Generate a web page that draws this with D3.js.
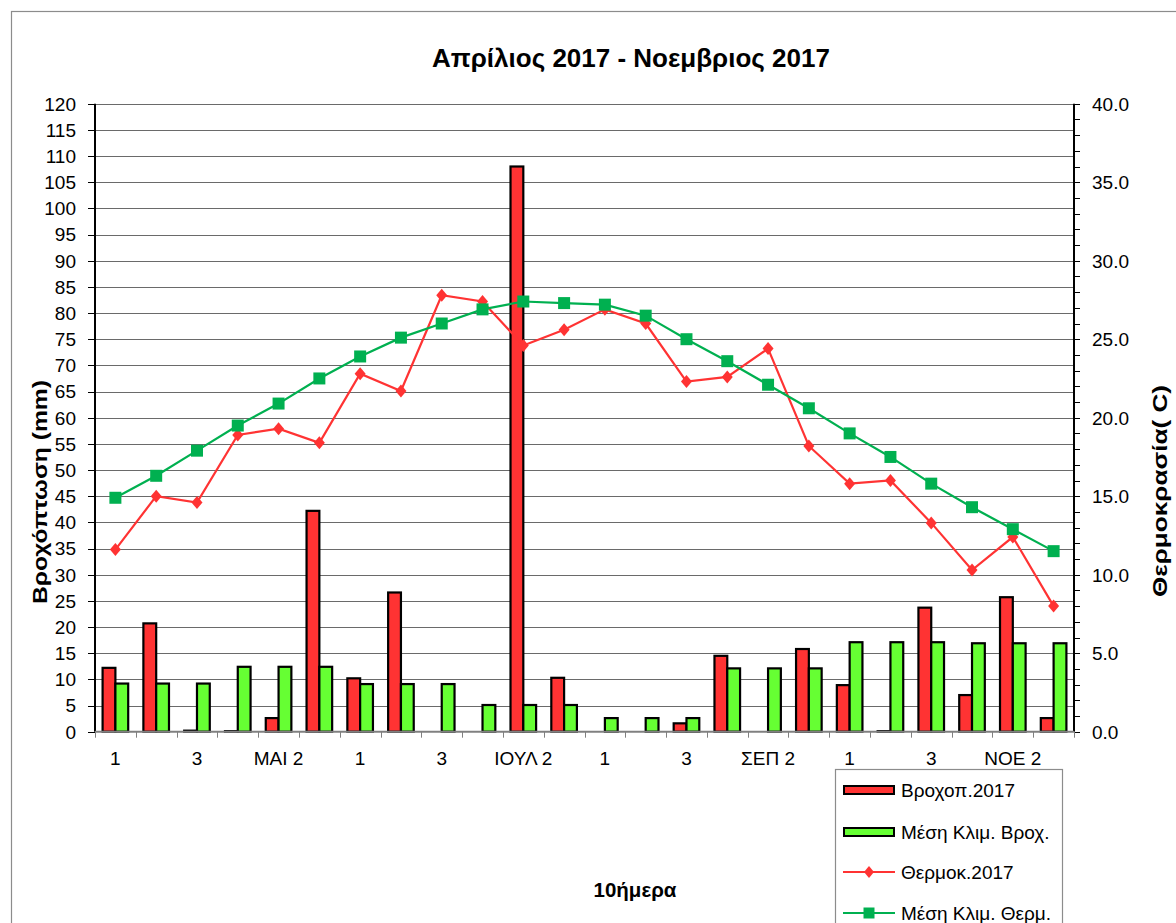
<!DOCTYPE html>
<html><head><meta charset="utf-8">
<script src="https://cdn.jsdelivr.net/npm/d3@7"></script>
<style>
html,body{margin:0;padding:0;background:#fff;}
svg{display:block;font-family:Arial,"Liberation Sans",sans-serif;}
</style></head>
<body><svg id="c" width="1176" height="923"></svg>
<script>
const categories = ["1","ΑΠΡ 2","3","1","ΜΑΙ 2","3","1","ΙΟΥΝ 2","3","1","ΙΟΥΛ 2","3","1","ΑΥΓ 2","3","1","ΣΕΠ 2","3","1","ΟΚΤ 2","3","1","ΝΟΕ 2","3"];
const rain2017 = [12.2,20.7,0.2,0.1,2.6,42.2,10.2,26.6,0,0,108.0,10.3,0,0,1.6,14.5,0,15.8,8.9,0.1,23.7,7.0,25.7,2.6];
const rainClim = [9.2,9.2,9.2,12.4,12.4,12.4,9.1,9.1,9.1,5.1,5.1,5.1,2.6,2.6,2.6,12.1,12.1,12.1,17.1,17.1,17.1,16.9,16.9,16.9];
const temp2017 = [11.6,15.0,14.6,18.9,19.3,18.4,22.8,21.7,27.8,27.4,24.6,25.6,26.9,26.0,22.3,22.6,24.4,18.2,15.8,16.0,13.3,10.3,12.4,8.0];
const tempClim = [14.9,16.3,17.9,19.5,20.9,22.5,23.9,25.1,26.0,26.9,27.4,27.3,27.2,26.5,25.0,23.6,22.1,20.6,19.0,17.5,15.8,14.3,12.9,11.5];
const leftTicks = d3.range(0,121,5);
const rightTicks = d3.range(0,41,5);
const rightMinor = d3.range(0,41,1);
const seriesNames = ["Βροχοπ.2017","Μέση Κλιμ. Βροχ.","Θερμοκ.2017","Μέση Κλιμ. Θερμ."];
const title = "Απρίλιος 2017 - Νοεμβριος 2017";

const C = {red:"#ff3333", lime:"#66ff33", green:"#00b050"};
const svg = d3.select("#c");
const L=95, R=1074, T=103.7, B=731.7;

// outer frame
svg.append("rect").attr("x",11.5).attr("y",11.5).attr("width",1180).attr("height",930)
  .attr("fill","none").attr("stroke","#8c8c8c").attr("stroke-width",1.2);

const xStep = (R-L)/categories.length;
const x = d3.scaleBand().domain(d3.range(categories.length)).range([L,R]).padding(0);
const xc = i => x(i) + x.bandwidth()/2;
const yL = d3.scaleLinear().domain([0,120]).range([B,T]);
const yR = d3.scaleLinear().domain([0,40]).range([B,T]);
const bw = 12.8;

// gridlines
svg.append("g").selectAll("line").data(leftTicks.filter(d=>d>0)).join("line")
  .attr("x1",L).attr("x2",R).attr("y1",d=>Math.round(yL(d))+0.5).attr("y2",d=>Math.round(yL(d))+0.5)
  .attr("stroke","#6a6a6a").attr("stroke-width",1);

// bars
const gb = svg.append("g");
const barData = [];
rain2017.forEach((v,i)=>{ if(v>0) barData.push({i,v,s:0}); });
rainClim.forEach((v,i)=>{ if(v>0) barData.push({i,v,s:1}); });
gb.selectAll("rect").data(barData).join("rect")
  .attr("x",d=> d.s===0 ? xc(d.i)-bw : xc(d.i))
  .attr("width",bw)
  .attr("y",d=>yL(d.v))
  .attr("height",d=>Math.max(0.01,B-yL(d.v)))
  .attr("fill",d=>d.s===0?C.red:C.lime)
  .attr("stroke","#000").attr("stroke-width",2.2);

// left axis
const ga = svg.append("g");
ga.append("line").attr("x1",L).attr("x2",L).attr("y1",T).attr("y2",B).attr("stroke","#000").attr("stroke-width",2);
ga.selectAll(".lt").data(leftTicks).join("line").attr("class","lt")
  .attr("x1",L-7).attr("x2",L).attr("y1",d=>Math.round(yL(d))+0.5).attr("y2",d=>Math.round(yL(d))+0.5)
  .attr("stroke","#000").attr("stroke-width",1);
ga.selectAll(".ll").data(leftTicks).join("text").attr("class","ll")
  .attr("x",76).attr("y",d=>yL(d)).attr("dy","0.36em").attr("text-anchor","end")
  .attr("font-size",19).attr("fill","#000").text(d=>d);

// right axis
ga.append("line").attr("x1",R).attr("x2",R).attr("y1",T).attr("y2",B).attr("stroke","#000").attr("stroke-width",2);
ga.selectAll(".rm").data(rightMinor).join("line").attr("class","rm")
  .attr("x1",R).attr("x2",R+6).attr("y1",d=>Math.round(yR(d))+0.5).attr("y2",d=>Math.round(yR(d))+0.5)
  .attr("stroke","#000").attr("stroke-width",1);
ga.selectAll(".rl").data(rightTicks).join("text").attr("class","rl")
  .attr("x",1092).attr("y",d=>yR(d)).attr("dy","0.36em").attr("text-anchor","start")
  .attr("font-size",19).attr("fill","#000").text(d=>d.toFixed(1));

// x axis
ga.append("line").attr("x1",L).attr("x2",R).attr("y1",B).attr("y2",B).attr("stroke","#808080").attr("stroke-width",2);
ga.selectAll(".xt").data(d3.range(categories.length+1)).join("line").attr("class","xt")
  .attr("x1",i=>Math.round(L+i*xStep)+0.5).attr("x2",i=>Math.round(L+i*xStep)+0.5)
  .attr("y1",B).attr("y2",B+6).attr("stroke","#808080").attr("stroke-width",1);
ga.selectAll(".xl").data(categories.map((c,i)=>({c,i})).filter(d=>d.i%2===0)).join("text").attr("class","xl")
  .attr("x",d=>xc(d.i)).attr("y",765).attr("text-anchor","middle")
  .attr("font-size",19).attr("fill","#000").text(d=>d.c);

// lines
function drawLine(vals,color,shape){
  const g = svg.append("g");
  const line = d3.line().x((d,i)=>xc(i)).y(d=>yR(d));
  g.append("path").attr("d",line(vals)).attr("fill","none").attr("stroke",color).attr("stroke-width",2.2);
  g.selectAll("path.m").data(vals).join("path").attr("class","m")
    .attr("transform",(d,i)=>`translate(${xc(i)},${yR(d)})`)
    .attr("d", shape==="diamond" ? "M0,-6.5L5.5,0L0,6.5L-5.5,0Z" : "M-6,-6H6V6H-6Z")
    .attr("fill",color);
}
drawLine(temp2017,C.red,"diamond");
drawLine(tempClim,C.green,"square");

// titles
svg.append("text").attr("x",631).attr("y",67).attr("text-anchor","middle")
  .attr("font-size",26).attr("font-weight","bold").text(title);
svg.append("text").attr("transform","translate(47,492) rotate(-90)").attr("text-anchor","middle")
  .attr("font-size",20).attr("font-weight","bold")
  .attr("textLength",224).attr("lengthAdjust","spacingAndGlyphs").text("Βροχόπτωση (mm)");
svg.append("text").attr("transform","translate(1167,491) rotate(-90)").attr("text-anchor","middle")
  .attr("font-size",20).attr("font-weight","bold")
  .attr("textLength",212).attr("lengthAdjust","spacingAndGlyphs").text("Θερμοκρασία( C)");
svg.append("text").attr("x",635).attr("y",897).attr("text-anchor","middle")
  .attr("font-size",20.5).attr("font-weight","bold").text("10ήμερα");

// legend
const lg = svg.append("g");
lg.append("rect").attr("x",835.5).attr("y",769.5).attr("width",227).attr("height",170)
  .attr("fill","#fff").attr("stroke","#8c8c8c").attr("stroke-width",1.2);
const ly = [790,832,872,913];
seriesNames.forEach((n,k)=>{
  const y0 = ly[k];
  if(k<2){
    lg.append("rect").attr("x",844).attr("y",y0-4).attr("width",50).attr("height",8)
      .attr("fill",k===0?C.red:C.lime).attr("stroke","#000").attr("stroke-width",2);
  } else {
    const col = k===2?C.red:C.green;
    lg.append("line").attr("x1",843).attr("x2",895).attr("y1",y0).attr("y2",y0).attr("stroke",col).attr("stroke-width",2);
    lg.append("path").attr("transform",`translate(869,${y0})`)
      .attr("d", k===2 ? "M0,-6L5,0L0,6L-5,0Z" : "M-5.5,-5.5H5.5V5.5H-5.5Z").attr("fill",col);
  }
  lg.append("text").attr("x",901).attr("y",y0).attr("dy","0.36em").attr("font-size",19).text(n);
});
</script></body></html>
